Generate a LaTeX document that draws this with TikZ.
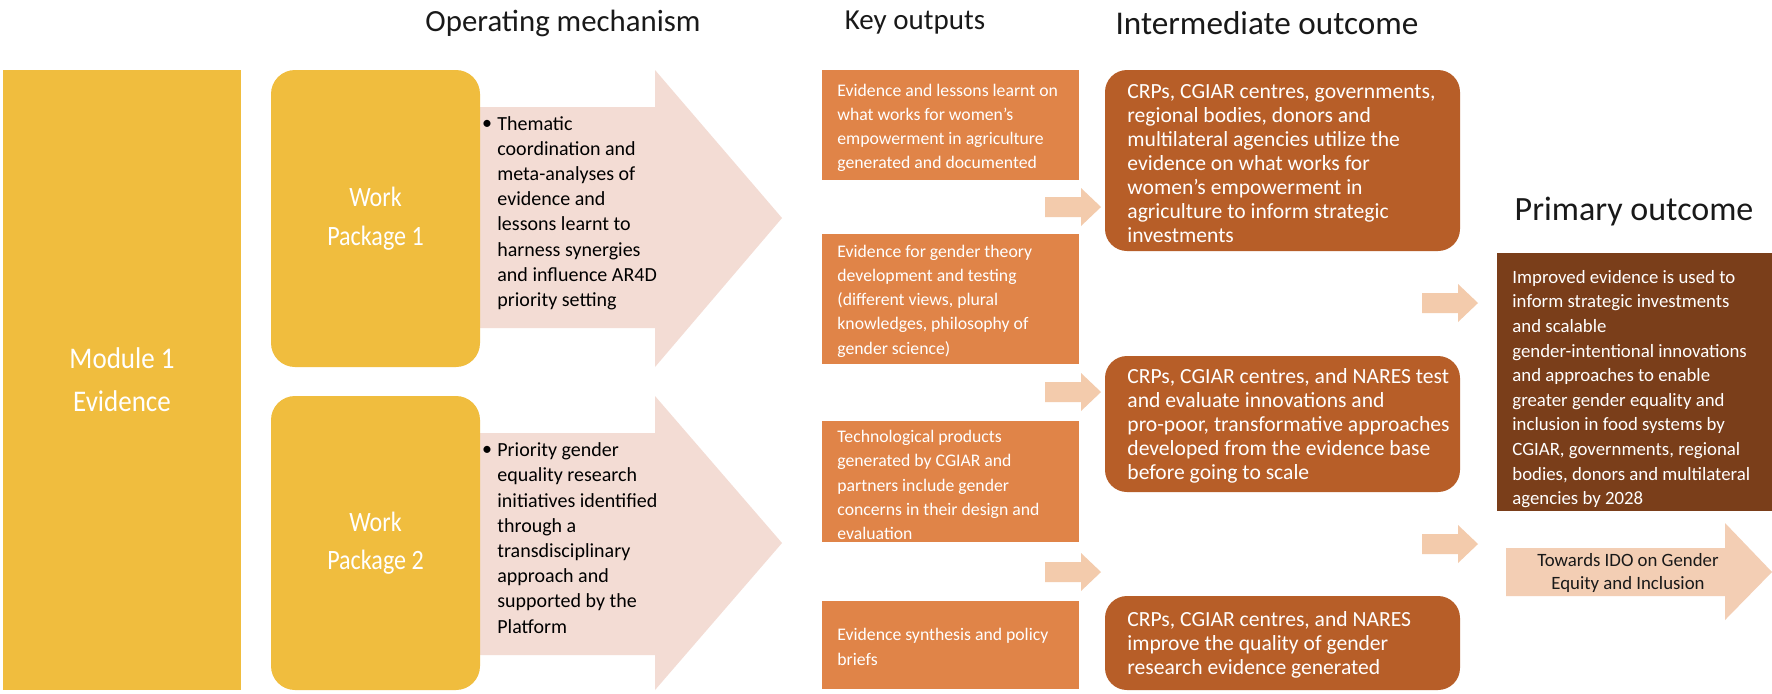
\documentclass[tikz,border=0pt]{standalone}
\usepackage{fontspec}
\setmainfont{Carlito}
\definecolor{yel}{RGB}{240,189,62}
\definecolor{pinkar}{RGB}{243,220,212}
\definecolor{koc}{RGB}{224,132,72}
\definecolor{ioc}{RGB}{183,94,40}
\definecolor{prc}{RGB}{122,62,26}
\definecolor{sar}{RGB}{243,203,172}
\definecolor{tow}{RGB}{243,206,180}
\definecolor{hdr}{RGB}{25,25,25}
\begin{document}
\begin{tikzpicture}[x=0.5pt,y=-0.5pt,
  hd/.style={text=hdr, inner sep=0pt},
  shapebox/.style={inner sep=0pt, outer sep=0pt},
  kobox/.style={shapebox, fill=koc, minimum width=128.5pt},
  iobox/.style={shapebox, fill=ioc, rounded corners=11pt, minimum width=177.5pt},
  prbox/.style={shapebox, fill=prc, minimum width=137.5pt},
  btext/.style={inner sep=0pt, align=left, anchor=west, text=white},
  kotext/.style={btext, font=\fontsize{8.85}{12.1}\selectfont},
  iotext/.style={btext, font=\fontsize{10.8}{12.0}\selectfont},
  prtext/.style={btext, font=\fontsize{9.4}{12.3}\selectfont},
  wpbox/.style={fill=yel, rounded corners=12pt, minimum width=104.5pt, inner sep=0pt, text=white, align=center, font=\fontsize{14}{19.3}\selectfont},
  artext/.style={inner sep=0pt, align=left, anchor=west, font=\fontsize{10}{12.6}\selectfont},
  bul/.style={inner sep=0pt, font=\fontsize{10}{12.6}\selectfont},
  sarrow/.pic={\fill[sar] (-56,-10) -- (-20,-10) -- (-20,-19) -- (0,0) -- (-20,19) -- (-20,10) -- (-56,10) -- cycle;}
]
\useasboundingbox (0,0) rectangle (1772,693);
\fill[white] (0,0) rectangle (1772,693);

% headers
\node[hd, font=\fontsize{15.4}{19}\selectfont] (h1) at (563,23) {Operating mechanism};
\node[hd, font=\fontsize{14.5}{19}\selectfont] (h2) at (915,23) {Key outputs};
\node[hd, font=\fontsize{16.6}{19}\selectfont] (h3) at (1267,23) {Intermediate outcome};
\node[hd, font=\fontsize{17}{19}\selectfont] (h4) at (1634,212) {Primary outcome};

% big arrows
\fill[pinkar] (480,107) -- (655,107) -- (655,70) -- (782,218) -- (655,367) -- (655,328) -- (480,328) -- cycle;
\fill[pinkar] (480,433) -- (655,433) -- (655,396) -- (782,543) -- (655,690) -- (655,655) -- (480,655) -- cycle;

% module
\node[fill=yel, minimum width=119pt, minimum height=310pt, inner sep=0pt, text=white, align=center,
  font=\fontsize{15}{21.5}\selectfont] (mod) at (122,380) {\scalebox{0.9}[1]{Module 1}\\\scalebox{0.9}[1]{Evidence}};

% work packages
\node[wpbox, minimum height=148.5pt] (wp1) at (375.5,218.5) {\scalebox{0.86}[1]{Work}\\\scalebox{0.86}[1]{Package 1}};
\node[wpbox, minimum height=147pt] (wp2) at (375.5,543) {\scalebox{0.86}[1]{Work}\\\scalebox{0.86}[1]{Package 2}};

% arrow texts
\node[bul] (b1) at (487,125) {\textbullet};
\node[artext] (t1) at (497,213) {Thematic\\coordination and\\meta-analyses of\\evidence and\\lessons learnt to\\harness synergies\\and influence AR4D\\priority setting};
\node[bul] (b2) at (487,451) {\textbullet};
\node[artext] (t2) at (497,538) {Priority gender\\equality research\\initiatives identified\\through a\\transdisciplinary\\approach and\\supported by the\\Platform};

% key outputs
\node[kobox, minimum height=55pt] (ko1) at (950.5,125) {};
\node[kotext] (ko1t) at (837,128) {Evidence and lessons learnt on\\what works for women’s\\empowerment in agriculture\\generated and documented};
\node[kobox, minimum height=65pt] (ko2) at (950.5,299) {};
\node[kotext] (ko2t) at (837,301) {Evidence for gender theory\\development and testing\\(different views, plural\\knowledges, philosophy of\\gender science)};
\node[kobox, minimum height=60.5pt] (ko3) at (950.5,481.5) {};
\node[kotext] (ko3t) at (837,485) {Technological products\\generated by CGIAR and\\partners include gender\\concerns in their design and\\evaluation};
\node[kobox, minimum height=44pt] (ko4) at (950.5,645) {};
\node[kotext] (ko4t) at (837,647) {Evidence synthesis and policy\\briefs};

% intermediate outcomes
\node[iobox, minimum height=90.5pt] (io1) at (1282.5,160.5) {};
\node[iotext] (io1t) at (1127,164) {CRPs, CGIAR centres, governments,\\regional bodies, donors and\\multilateral agencies utilize the\\evidence on what works for\\women’s empowerment in\\agriculture to inform strategic\\investments};
\node[iobox, minimum height=68pt] (io2) at (1282.5,424) {};
\node[iotext] (io2t) at (1127,426) {CRPs, CGIAR centres, and NARES test\\and evaluate innovations and\\pro-poor, transformative approaches\\developed from the evidence base\\before going to scale};
\node[iobox, minimum height=47pt] (io3) at (1282.5,643) {};
\node[iotext] (io3t) at (1127,645) {CRPs, CGIAR centres, and NARES\\improve the quality of gender\\research evidence generated};

% small arrows
\pic at (1101,207) {sarrow};
\pic at (1101,392) {sarrow};
\pic at (1101,572) {sarrow};
\pic at (1478,303) {sarrow};
\pic at (1478,544) {sarrow};

% primary outcome
\node[prbox, minimum height=129pt] (pr) at (1634.5,382) {};
\node[prtext] (prt) at (1512,389) {Improved evidence is used to\\inform strategic investments\\and scalable\\gender-intentional innovations\\and approaches to enable\\greater gender equality and\\inclusion in food systems by\\CGIAR, governments, regional\\bodies, donors and multilateral\\agencies by 2028};

% towards arrow
\fill[tow] (1506,548) -- (1725,548) -- (1725,523) -- (1772,572) -- (1725,620) -- (1725,596) -- (1506,596) -- cycle;
\node[inner sep=0pt, align=center, font=\fontsize{9.4}{11.5}\selectfont, text=hdr] (tw) at (1628,573) {Towards IDO on Gender\\Equity and Inclusion};
\end{tikzpicture}
\end{document}
